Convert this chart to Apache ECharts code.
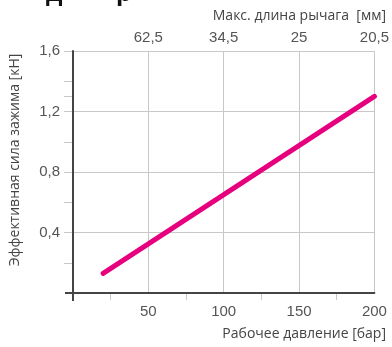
<!DOCTYPE html>
<html>
<head>
<meta charset="utf-8">
<script src="https://cdn.jsdelivr.net/npm/echarts@6/dist/echarts.min.js"></script>
<style>html,body{margin:0;padding:0;background:#fff}#c{width:392px;height:347px}</style>
</head>
<body>
<div id="c"></div>
<script>
// Data
var pressure = [20, 200];          // Рабочее давление [бар]
var force = [0.13, 1.3];           // Эффективная сила зажима [кН]
var topTickValues = [50, 100, 150, 200];
var topTickLabels = ['62,5', '34,5', '25', '20,5']; // Макс. длина рычага [мм]
var yTickValues = [0.4, 0.8, 1.2, 1.6];
var yTickLabels = ['0,4', '0,8', '1,2', '1,6'];
var yMarks = [0.2, 0.4, 0.6, 0.8, 1.0, 1.2, 1.3, 1.4, 1.6];
var xMarks = [25, 75, 125, 175];

var xName = 'Рабочее давление [бар]';
var yName = 'Эффективная сила зажима [кН]';
var topName = 'Макс. длина рычага  [мм]';

var grey = '#c8c8c8', dark = '#444', txt = '#555';
var tickFont = 'Liberation Sans';
var nameFont = 'Open Sans';

function blankX(pos, extra) {
  var a = {type: 'value', min: 0, max: 200, interval: 50, position: pos,
    axisLine: {show: true, onZero: false, lineStyle: {color: 'rgba(0,0,0,0)', width: 1}},
    splitLine: {show: false}, axisLabel: {show: false}, axisTick: {show: false}};
  for (var k in extra) a[k] = extra[k];
  return a;
}
function blankY(extra) {
  var a = {type: 'value', min: 0, max: 1.6, interval: 0.4, position: 'left',
    axisLine: {show: true, onZero: false, lineStyle: {color: 'rgba(0,0,0,0)', width: 1}},
    splitLine: {show: false}, axisLabel: {show: false}, axisTick: {show: false}};
  for (var k in extra) a[k] = extra[k];
  return a;
}

var chart = echarts.init(document.getElementById('c'));
var option = {
  animation: false,
  grid: {left: 73, right: 17, top: 51, bottom: 54},
  xAxis: [
    {
      type: 'value', min: 0, max: 200, interval: 50, position: 'bottom',
      axisLine: {show: true, onZero: false, lineStyle: {color: dark, width: 2}},
      axisTick: {show: false},
      axisLabel: {show: true, margin: 11, color: txt, fontFamily: tickFont, fontSize: 15,
        showMinLabel: false},
      splitLine: {show: true, lineStyle: {color: grey, width: 1}},
      z: 3
    },
    blankX('top', {
      axisLabel: {show: true, margin: 6, color: txt, fontFamily: tickFont, fontSize: 15,
        showMinLabel: false,
        formatter: function (v) { var i = topTickValues.indexOf(v); return i >= 0 ? topTickLabels[i] : ''; }}
    }),
    blankX('bottom', {
      axisTick: {show: true, customValues: xMarks, length: 7, lineStyle: {color: grey, width: 1}}
    }),
    blankX('bottom', {
      axisTick: {show: true, customValues: [0], length: 8, lineStyle: {color: dark, width: 2}}
    })
  ],
  yAxis: [
    {
      type: 'value', min: 0, max: 1.6, interval: 0.4,
      axisLine: {show: true, onZero: false, lineStyle: {color: dark, width: 2}},
      axisTick: {show: false},
      axisLabel: {show: true, margin: 13, color: txt, fontFamily: tickFont, fontSize: 15,
        showMinLabel: false,
        formatter: function (v) { var i = yTickValues.indexOf(Math.round(v * 10) / 10); return i >= 0 ? yTickLabels[i] : ''; }},
      splitLine: {show: true, lineStyle: {color: grey, width: 1}},
      z: 3
    },
    blankY({
      axisTick: {show: true, customValues: yMarks, length: 9, lineStyle: {color: grey, width: 1}}
    }),
    blankY({
      axisTick: {show: true, customValues: [0], length: 8, lineStyle: {color: dark, width: 2}}
    })
  ],
  series: [{
    type: 'line',
    xAxisIndex: 0, yAxisIndex: 0,
    data: pressure.map(function (p, i) { return [p, force[i]]; }),
    showSymbol: false, symbol: 'none',
    lineStyle: {color: '#e6007e', width: 5, cap: 'round'},
    z: 5
  }],
  graphic: [
    {type: 'text', right: 6, top: 9, style: {text: topName, fill: '#444', font: '14px "' + nameFont + '"'}},
    {type: 'text', right: 6, top: 327, style: {text: xName, fill: '#444', font: '14px "' + nameFont + '"'}},
    {type: 'text', x: 15, y: 160, rotation: Math.PI / 2,
      style: {text: yName, fill: '#444', font: '14px "' + nameFont + '"', align: 'center', verticalAlign: 'middle'}},
    {type: 'text', x: 46, y: -19, style: {text: 'д', fill: '#111', font: 'bold 26px "Liberation Sans"'}},
    {type: 'text', x: 116, y: -19, style: {text: 'р', fill: '#111', font: 'bold 26px "Liberation Sans"'}}
  ]
};
chart.setOption(option);
</script>
</body>
</html>
